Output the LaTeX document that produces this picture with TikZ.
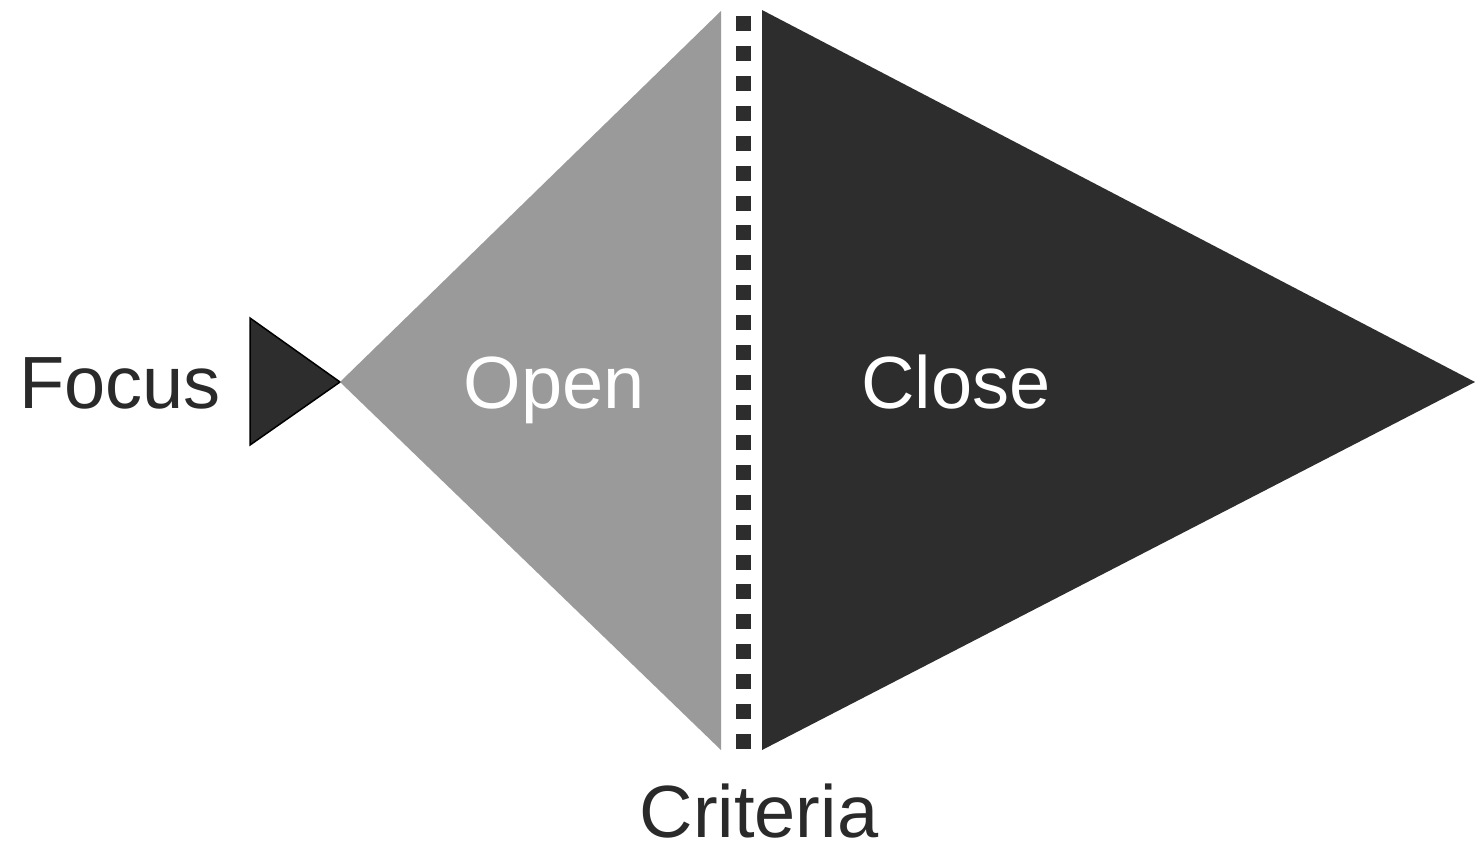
\documentclass[tikz,border=0pt]{standalone}
\usepackage{fontspec}
\setmainfont{Liberation Sans}
\definecolor{darkfill}{HTML}{2D2D2D}
\definecolor{openfill}{HTML}{9A9A9A}
\definecolor{labelink}{HTML}{2A2A2A}
\begin{document}
\begin{tikzpicture}[x=1pt,y=-1pt,
  label/.style={anchor=base,inner sep=0pt,text depth=0pt,font=\fontsize{74}{80}\selectfont},
  darklabel/.style={label,text=labelink},
  lightlabel/.style={label,text=white}]
\useasboundingbox[fill=white] (0,0) rectangle (1475,849);
% focus wedge
\filldraw[fill=darkfill,draw=black,line width=1.5pt,line join=miter]
  (250,318) -- (340,382) -- (250,445) -- cycle;
% opening (divergent) half
\fill[openfill] (340,382) -- (721,11) -- (721,750) -- cycle;
% closing (convergent) half
\fill[darkfill] (762,10) -- (1475,382) -- (762,750) -- cycle;
% criteria divider
\coordinate (divtop) at (743.5,16);
\coordinate (divbot) at (743.5,750);
\draw[darkfill,line width=15pt,dash pattern=on 15pt off 14.92pt] (divtop) -- (divbot);
% labels
\node[darklabel] (focus) at (120,408) {Focus};
\node[lightlabel] (open) at (554,408) {Open};
\node[lightlabel] (close) at (956,408) {Close};
\node[darklabel] (criteria) at (759,837) {Criteria};
\end{tikzpicture}
\end{document}
